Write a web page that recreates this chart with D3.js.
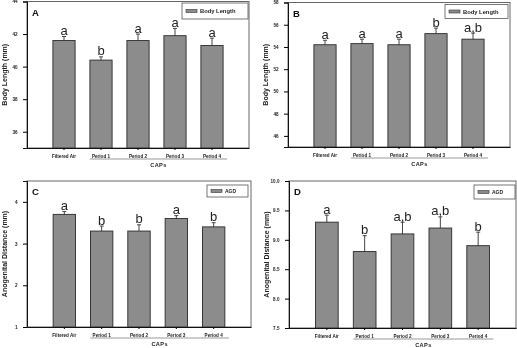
<!DOCTYPE html>
<html>
<head>
<meta charset="utf-8">
<script src="https://cdn.jsdelivr.net/npm/d3@7"></script>
<style>
  body { margin: 0; background: #fff; }
  svg { display: block; font-family: "Liberation Sans", Arial, sans-serif; will-change: transform; }
</style>
</head>
<body>
<div id="chart"></div>
<script>
// categories on the x axis
const categories = ["Filtered Air", "Period 1", "Period 2", "Period 3", "Period 4"];

// panel A - body length
const bodyLengthA = [41.6, 40.4, 41.6, 41.9, 41.3];
const bodyLengthAErr = [0.25, 0.2, 0.4, 0.45, 0.45];
const lettersA = ["a", "b", "a", "a", "a"];
const ticksA = [36, 38, 40, 42, 44];

// panel B - body length
const bodyLengthB = [54.2, 54.3, 54.2, 55.2, 54.7];
const bodyLengthBErr = [0.4, 0.4, 0.5, 0.5, 0.55];
const lettersB = ["a", "a", "a", "b", "a,b"];
const ticksB = [46, 48, 50, 52, 54, 56, 58];

// panel C - anogenital distance
const agdC = [3.7, 3.3, 3.3, 3.6, 3.4];
const agdCErr = [0.07, 0.12, 0.15, 0.07, 0.1];
const lettersC = ["a", "b", "b", "a", "b"];
const ticksC = [1, 2, 3, 4];

// panel D - anogenital distance
const agdD = [9.3, 8.8, 9.1, 9.2, 8.9];
const agdDErr = [0.12, 0.27, 0.2, 0.19, 0.23];
const lettersD = ["a", "b", "a,b", "a,b", "b"];
const ticksD = [7.5, 8.0, 8.5, 9.0, 9.5, 10.0];

const svg = d3.select("#chart").append("svg")
    .attr("width", 517)
    .attr("height", 348);

svg.append("rect")
    .attr("width", 517)
    .attr("height", 348)
    .attr("fill", "#fff");

const panels = [
    {letter: "A", values: bodyLengthA, errs: bodyLengthAErr, letters: lettersA, ticks: ticksA, fmt: d3.format("d"),
     domain: [35, 44], left: 27, right: 249, top: 1.5, bottom: 148,
     yTitle: "Body Length (mm)", legend: "Body Length", legendBox: [182, 3, 66, 16]},
    {letter: "B", values: bodyLengthB, errs: bodyLengthBErr, letters: lettersB, ticks: ticksB, fmt: d3.format("d"),
     domain: [45, 58], left: 288, right: 510, top: 2.5, bottom: 147,
     yTitle: "Body Length (mm)", legend: "Body Length", legendBox: [445, 4.5, 63, 14]},
    {letter: "C", values: agdC, errs: agdCErr, letters: lettersC, ticks: ticksC, fmt: d3.format("d"),
     domain: [1, 4.5], left: 27, right: 251, top: 181, bottom: 327,
     yTitle: "Anogenital Distance (mm)", legend: "AGD", legendBox: [207, 185, 41, 12]},
    {letter: "D", values: agdD, errs: agdDErr, letters: lettersD, ticks: ticksD, fmt: d3.format(".1f"),
     domain: [7.5, 10], left: 289, right: 516, top: 181, bottom: 328,
     yTitle: "Anogenital Distance (mm)", legend: "AGD", legendBox: [474, 185, 41, 14]}
];

panels.forEach(drawPanel);

function drawPanel(p) {
    let g = svg.append("g");

    let x = d3.scaleBand()
        .domain(categories)
        .range([p.left, p.right])
        .paddingInner(0.4)
        .paddingOuter(0.7);

    let y = d3.scaleLinear()
        .domain(p.domain)
        .range([p.bottom, p.top]);

    let data = categories.map((c, i) => ({cat: c, v: p.values[i], e: p.errs[i], l: p.letters[i]}));

    // frame
    g.append("rect")
        .attr("x", p.left)
        .attr("y", p.top)
        .attr("width", p.right - p.left)
        .attr("height", p.bottom - p.top)
        .attr("fill", "none")
        .attr("stroke", "#666")
        .attr("stroke-width", 1);

    // error whiskers (upper only)
    g.selectAll(".whisker")
        .data(data)
        .join("line")
        .attr("x1", d => x(d.cat) + x.bandwidth() / 2)
        .attr("x2", d => x(d.cat) + x.bandwidth() / 2)
        .attr("y1", d => y(d.v))
        .attr("y2", d => y(d.v + d.e))
        .attr("stroke", "#444")
        .attr("stroke-width", 1);

    g.selectAll(".cap")
        .data(data)
        .join("line")
        .attr("x1", d => x(d.cat) + x.bandwidth() / 2 - 2)
        .attr("x2", d => x(d.cat) + x.bandwidth() / 2 + 2)
        .attr("y1", d => y(d.v + d.e))
        .attr("y2", d => y(d.v + d.e))
        .attr("stroke", "#444")
        .attr("stroke-width", 1);

    // bars
    g.selectAll(".bar")
        .data(data)
        .join("rect")
        .attr("x", d => x(d.cat))
        .attr("y", d => y(d.v))
        .attr("width", x.bandwidth())
        .attr("height", d => p.bottom - y(d.v))
        .attr("fill", "#8c8c8c")
        .attr("stroke", "#2a2a2a")
        .attr("stroke-width", 0.9);

    // significance letters
    g.selectAll(".sig")
        .data(data)
        .join("text")
        .attr("x", d => x(d.cat) + x.bandwidth() / 2)
        .attr("y", d => y(d.v + d.e) - 1.5)
        .attr("text-anchor", "middle")
        .style("font-size", "13px")
        .style("fill", "#222")
        .text(d => d.l);

    // y axis
    let yAxis = g.append("g")
        .attr("transform", `translate(${p.left},0)`)
        .call(d3.axisLeft(y).tickValues(p.ticks).tickFormat(p.fmt).tickSize(4).tickPadding(5.5));
    yAxis.select(".domain").attr("stroke", "#111");
    yAxis.selectAll("text")
        .style("font-size", "4.6px")
        .style("font-weight", "bold")
        .attr("fill", "#222");

    // x axis
    let xAxis = g.append("g")
        .attr("transform", `translate(0,${p.bottom})`)
        .call(d3.axisBottom(x).tickSize(2).tickPadding(4.5).tickSizeOuter(0));
    xAxis.select(".domain").attr("stroke", "#111");
    xAxis.selectAll("text")
        .style("font-size", "4.6px")
        .style("font-weight", "bold")
        .attr("fill", "#222");

    // CAPs underline and label
    let x1 = x("Period 1");
    let x2 = x("Period 4") + x.bandwidth() + 4;
    g.append("line")
        .attr("x1", x1).attr("x2", x2)
        .attr("y1", p.bottom + 11).attr("y2", p.bottom + 11)
        .attr("stroke", "#999")
        .attr("stroke-width", 1);
    g.append("text")
        .attr("x", (x1 + x2) / 2)
        .attr("y", p.bottom + 19)
        .attr("text-anchor", "middle")
        .style("font-size", "5.6px")
        .style("font-weight", "bold")
        .style("letter-spacing", "0.4px")
        .style("fill", "#222")
        .text("CAPs");

    // y title
    g.append("text")
        .attr("transform", `translate(${p.left - 20},${(p.top + p.bottom) / 2}) rotate(-90)`)
        .attr("text-anchor", "middle")
        .style("font-size", "7px")
        .style("font-weight", "bold")
        .style("fill", "#222")
        .text(p.yTitle);

    // panel letter
    g.append("text")
        .attr("x", p.left + 5)
        .attr("y", p.top + 14)
        .style("font-size", "9.5px")
        .style("font-weight", "bold")
        .style("fill", "#111")
        .text(p.letter);

    // legend
    let [lx, ly, lw, lh] = p.legendBox;
    g.append("rect")
        .attr("x", lx).attr("y", ly)
        .attr("width", lw).attr("height", lh)
        .attr("fill", "#fff")
        .attr("stroke", "#555")
        .attr("stroke-width", 0.8);
    g.append("rect")
        .attr("x", lx + 4).attr("y", ly + lh / 2 - 1.5)
        .attr("width", 11).attr("height", 3)
        .attr("fill", "#8c8c8c")
        .attr("stroke", "#333")
        .attr("stroke-width", 0.6);
    g.append("text")
        .attr("x", lx + 18)
        .attr("y", ly + lh / 2 + 2)
        .style("font-size", p.legend === "AGD" ? "5px" : "5.8px")
        .style("font-weight", "bold")
        .style("fill", "#222")
        .text(p.legend);
}
</script>
</body>
</html>
